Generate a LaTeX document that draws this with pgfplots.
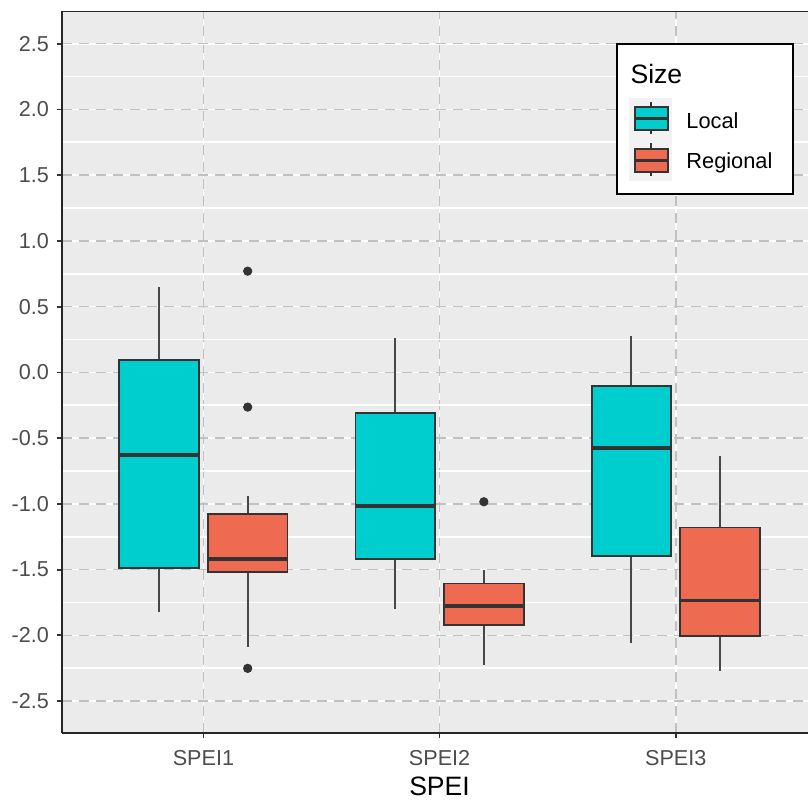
\documentclass[border=0pt]{standalone}
\usepackage{pgfplots}
\pgfplotsset{compat=1.18}
\usepgfplotslibrary{statistics}
\usepackage{fontspec}
\setmainfont{Liberation Sans}
\definecolor{localc}{HTML}{00CDCD}
\definecolor{regc}{HTML}{EE6A50}
\definecolor{panelbg}{HTML}{EBEBEB}
\definecolor{gridgray}{HTML}{C0C0C0}
\definecolor{dk}{HTML}{333333}
\definecolor{ticktext}{HTML}{4D4D4D}
\definecolor{keybg}{HTML}{F2F2F2}
\pgfplotsset{
  bx/.style={draw=dk, line width=0.9pt,
    boxplot/draw direction=y,
    boxplot/every median/.style={line width=1.7pt},
    boxplot/every whisker/.style={line width=1pt, draw=dk!90!white},
    boxplot/every box/.style={line width=0.9pt},
    boxplot/whisker extend=0,
    mark=*, mark size=2.1pt, mark options={fill=dk, draw=dk, line width=0.4pt}},
  bxL/.style={bx, fill=localc},
  bxR/.style={bx, fill=regc},
}
\begin{document}
\begin{tikzpicture}
\begin{axis}[
  name=ax,
  scale only axis,
  width=373.15pt, height=360.9pt,
  xmin=0.4, xmax=3.56, ymin=-2.745, ymax=2.745,
  axis background/.style={fill=panelbg},
  axis x line*=bottom, axis y line*=left,
  axis line style={draw=black!85, line width=0.9pt, -},
  xtick={1,2,3}, xticklabels={SPEI1,SPEI2,SPEI3},
  ytick={-2.5,-2,-1.5,-1,-0.5,0,0.5,1,1.5,2,2.5},
  yticklabels={-2.5,-2.0,-1.5,-1.0,-0.5,0.0,0.5,1.0,1.5,2.0,2.5},
  minor ytick={-2.25,-1.75,-1.25,-0.75,-0.25,0.25,0.75,1.25,1.75,2.25},
  tick align=outside,
  major tick length=2.5pt, minor tick length=0pt,
  tick style={dk, line width=0.9pt},
  xmajorgrids, ymajorgrids, yminorgrids,
  major grid style={draw=white, line width=0.8pt, postaction={draw=gridgray, dash pattern=on 5pt off 3.5pt, line width=0.75pt}},
  minor grid style={draw=white, line width=0.9pt},
  xticklabel style={font=\fontsize{10.8pt}{12pt}\selectfont, text=ticktext, inner sep=0pt, anchor=north, yshift=-6pt},
  yticklabel style={font=\fontsize{10.8pt}{12pt}\selectfont, text=ticktext, inner sep=0pt, anchor=east, xshift=-3.7pt},
  xlabel={SPEI},
  xlabel style={at={(axis description cs:0.5063,0)}, anchor=north, inner sep=0pt, yshift=-21.7pt, font=\fontsize{13.3pt}{15pt}\selectfont},
]
% SPEI1
\addplot[bxL, boxplot prepared={draw position=0.8125, box extend=0.3375,
  lower whisker=-1.825, lower quartile=-1.490, median=-0.629, upper quartile=0.094, upper whisker=0.651}] coordinates {};
\addplot[bxR, boxplot prepared={draw position=1.1875, box extend=0.3375,
  lower whisker=-2.091, lower quartile=-1.521, median=-1.420, upper quartile=-1.080, upper whisker=-0.938}]
  table[row sep=\\, y index=0] {data\\ 0.770\\ -0.264\\ -2.251\\};
% SPEI2
\addplot[bxL, boxplot prepared={draw position=1.8125, box extend=0.3375,
  lower whisker=-1.800, lower quartile=-1.422, median=-1.017, upper quartile=-0.307, upper whisker=0.259}] coordinates {};
\addplot[bxR, boxplot prepared={draw position=2.1875, box extend=0.3375,
  lower whisker=-2.226, lower quartile=-1.922, median=-1.777, upper quartile=-1.605, upper whisker=-1.503}]
  table[row sep=\\, y index=0] {data\\ -0.984\\};
% SPEI3
\addplot[bxL, boxplot prepared={draw position=2.8125, box extend=0.3375,
  lower whisker=-2.061, lower quartile=-1.397, median=-0.576, upper quartile=-0.102, upper whisker=0.276}] coordinates {};
\addplot[bxR, boxplot prepared={draw position=3.1875, box extend=0.3375,
  lower whisker=-2.269, lower quartile=-2.003, median=-1.737, upper quartile=-1.179, upper whisker=-0.637}] coordinates {};
\end{axis}
\draw[black!85, line width=0.9pt] (ax.north west) -- (ax.north east);
% legend
\begin{scope}[shift={(ax.north west)}]
\draw[black, line width=0.9pt, fill=white] (277.8pt,-16.4pt) rectangle (365.8pt,-91.4pt);
\node[anchor=base west, inner sep=0pt, font=\fontsize{13.3pt}{15pt}\selectfont] at (284.2pt,-35.9pt) {Size};
\fill[keybg] (283.8pt,-43.1pt) rectangle (305pt,-84.75pt);
\draw[dk, line width=0.9pt] (294.8pt,-45.1pt) -- (294.8pt,-61.25pt);
\draw[dk, line width=0.9pt, fill=localc] (286.65pt,-47.75pt) rectangle (303pt,-59.25pt);
\draw[dk, line width=1.7pt] (286.65pt,-53.5pt) -- (303pt,-53.5pt);
\draw[dk, line width=0.9pt] (294.8pt,-65.9pt) -- (294.8pt,-82.1pt);
\draw[dk, line width=0.9pt, fill=regc] (286.65pt,-68.75pt) rectangle (303pt,-80.1pt);
\draw[dk, line width=1.7pt] (286.65pt,-74.4pt) -- (303pt,-74.4pt);
\node[anchor=base west, inner sep=0pt, font=\fontsize{10.9pt}{12pt}\selectfont] at (312.15pt,-58.75pt) {Local};
\node[anchor=base west, inner sep=0pt, font=\fontsize{10.9pt}{12pt}\selectfont] at (312.15pt,-78.75pt) {Regional};
\end{scope}
\pgfresetboundingbox
\path[use as bounding box] ([xshift=-30.85pt, yshift=-32.85pt]ax.south west) rectangle ([yshift=5.75pt]ax.north east);
\end{tikzpicture}
\end{document}
